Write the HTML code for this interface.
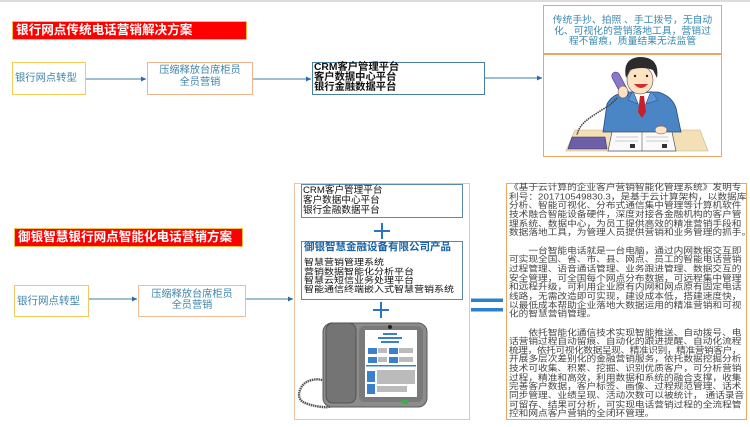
<!DOCTYPE html>
<html><head><meta charset="utf-8">
<style>
html,body{margin:0;padding:0;}
body{width:750px;height:427px;position:relative;background:#fff;overflow:hidden;font-family:"Liberation Sans","Noto Sans CJK SC",sans-serif;}
.a{position:absolute;box-sizing:border-box;}
.t{position:absolute;white-space:nowrap;}
.red{background:#ff0000;border:1px solid #f3c04a;color:#fff;font-weight:bold;font-family:"Liberation Sans","Noto Sans CJK SC",sans-serif;font-size:12.6px;line-height:17px;padding-left:3px;}
.blu{color:#3f86ad;}
.ser{font-family:"Liberation Sans","Noto Sans CJK SC",sans-serif;color:#111;}
</style></head><body>

<div class="a" style="left:0;top:0;width:750px;height:2px;background:#dcdcdc"></div>

<!-- Section 1 -->
<div class="a red" style="left:12px;top:21px;width:235px;height:19px">银行网点传统电话营销解决方案</div>

<div class="a" style="left:12px;top:62px;width:74px;height:33px;border:1.5px solid #f4cc55"></div>
<div class="t blu" style="left:15px;top:72px;font-size:10.3px;line-height:14px">银行网点转型</div>

<div class="a" style="left:147px;top:62px;width:106px;height:33px;border:1.5px solid #efb48c"></div>
<div class="t blu" style="left:147px;top:65px;width:106px;text-align:center;font-size:10.2px;line-height:12px">压缩释放台席柜员<br>全员营销</div>

<div class="a" style="left:312px;top:62px;width:173px;height:33px;border:1.5px solid #4a7f9f"></div>
<div class="t ser" style="left:314px;top:63px;font-size:10.3px;line-height:10px;font-weight:bold">CRM客户管理平台<br>客户数据中心平台<br>银行金融数据平台</div>

<div class="a" style="left:543px;top:5px;width:179px;height:152px;border:1.5px solid #f0a462"></div>
<div class="a" style="left:543px;top:53px;width:179px;height:1.5px;background:#f0a462"></div>
<div class="t" style="left:543px;top:16px;width:179px;text-align:center;font-size:9.8px;line-height:10.5px;color:#3a8ab0">传统手抄、拍照 、手工拨号，无自动<br>化、可视化的营销落地工具，营销过<br>程不留痕，质量结果无法监管</div>

<!-- Section 2 -->
<div class="a red" style="left:14px;top:228px;width:229px;height:19px">御银智慧银行网点智能化电话营销方案</div>

<div class="a" style="left:14px;top:285px;width:75px;height:32px;border:1.5px solid #f2c860"></div>
<div class="t blu" style="left:17px;top:294px;font-size:10.5px;line-height:14px">银行网点转型</div>

<div class="a" style="left:138px;top:285px;width:108px;height:32px;border:1.5px solid #f0bc96"></div>
<div class="t blu" style="left:138px;top:290px;width:108px;text-align:center;font-size:10.2px;line-height:10.5px">压缩释放台席柜员<br>全员营销</div>

<div class="a" style="left:294px;top:183px;width:176px;height:237px;border:1.5px solid #f0c4a0"></div>

<div class="a" style="left:301px;top:184px;width:162px;height:34px;border:1.5px solid #5a8aa8"></div>
<div class="t ser" style="left:303px;top:186px;font-size:9.6px;line-height:10px">CRM客户管理平台<br>客户数据中心平台<br>银行金融数据平台</div>

<div class="a" style="left:301px;top:241px;width:162px;height:59px;border:1.5px solid #5a8aa8"></div>
<div class="t" style="left:304px;top:241px;font-size:10.5px;line-height:12px;font-weight:bold;color:#1a62a4">御银智慧金融设备有限公司产品</div>
<div class="t ser" style="left:304px;top:259px;font-size:10px;line-height:10.6px;transform:scaleY(0.85);transform-origin:0 0">智慧营销管理系统<br>营销数据智能化分析平台<br>智慧云短信业务处理平台<br>智能通信终端嵌入式智慧营销系统</div>

<div class="a" style="left:506px;top:183px;width:241px;height:237px;border:1.5px solid #f0a462"></div>
<div class="t" style="left:509px;top:183.5px;transform:scaleY(0.85);transform-origin:0 0;font-size:9.7px;line-height:10.65px;color:#444">《基于云计算的企业客户营销智能化管理系统》发明专<br>利号：201710549830.3，是基于云计算架构，以数据库<br>分析、智能可视化、分布式通信集中管理等计算机软件<br>技术融合智能设备硬件，深度对接各金融机构的客户管<br>理系统、数据中心，为员工提供高效的精准营销手段和<br>数据落地工具，为管理人员提供营销和业务管理的抓手。<br>&nbsp;<br>&emsp;&emsp;一台智能电话就是一台电脑，通过内网数据交互即<br>可实现全国、省、市、县、网点、员工的智能电话营销<br>过程管理、语音通话管理、业务跟进管理、数据交互的<br>安全管理，可全国每个网点分布数据，可远程集中管理<br>和远程升级，可利用企业原有内网和网点原有固定电话<br>线路，无需改造即可实现，建设成本低，搭建速度快，<br>以最低成本帮助企业落地大数据运用的精准营销和可视<br>化的智慧营销管理。<br>&nbsp;<br>&emsp;&emsp;依托智能化通信技术实现智能推送、自动拨号、电<br>话营销过程自动留痕、自动化的跟进提醒、自动化流程<br><span style="letter-spacing:-0.4px">梳理，依托可视化数据呈现、精准识别，精准营销客户，</span><br>开展多层次差别化的金融营销服务，依托数据挖掘分析<br>技术可收集、积累、挖掘、识别优质客户，可分析营销<br>过程，精准和高效，利用数据和系统的融合支撑，收集<br>完善客户数据，客户标签、画像、过程规范管理、话术<br>同步管理、业绩呈现、活动次数可以被统计， 通话录音<br>可留存、结果可分析，可实现电话营销过程的全流程管<br>控和网点客户营销的全闭环管理。</div>

<svg class="a" style="left:0;top:0" width="750" height="427" viewBox="0 0 750 427">
  <defs>
    <marker id="ah" markerWidth="6" markerHeight="6" refX="5" refY="3" orient="auto" markerUnits="userSpaceOnUse">
      <path d="M0,0.5 L5,3 L0,5.5 z" fill="#2a6aa8"/>
    </marker>
  </defs>
  <g stroke="#7fa9c4" stroke-width="1.5" fill="none" marker-end="url(#ah)">
    <line x1="86" y1="79" x2="146" y2="79"/>
    <line x1="253" y1="79" x2="311" y2="79"/>
    <line x1="485" y1="78" x2="542" y2="78"/>
    <line x1="89" y1="299" x2="137" y2="299"/>
    <line x1="246" y1="299" x2="293" y2="299"/>
  </g>
  <g stroke="#2a74c4" stroke-width="2">
    <line x1="374" y1="231" x2="390" y2="231"/><line x1="382" y1="223" x2="382" y2="239"/>
    <line x1="373" y1="310" x2="389" y2="310"/><line x1="381" y1="302" x2="381" y2="318"/>
  </g>
  <rect x="471" y="298.5" width="32" height="3.5" fill="#2a82cc"/>
  <rect x="471" y="308" width="32" height="3.5" fill="#2a82cc"/>

  <g>
    <polygon points="575,130 700,130 708,151 566,151" fill="#f3e0b6" stroke="#c8b088" stroke-width="0.6"/>
    <path d="M603,132 L607,104 Q612,94 626,92 L658,92 Q672,96 676,108 L681,132 Z" fill="#4a86c6" stroke="#2a4a78" stroke-width="0.8"/>
    <polygon points="634,93 650,93 642,112" fill="#fff"/>
    <polygon points="640,96 644,96 646,112 642,118 638,112" fill="#c8202a"/>
    <path d="M633,91 L628,100 L638,104 Z" fill="#5a96d4" stroke="#2a4a78" stroke-width="0.5"/>
    <path d="M651,91 L658,100 L646,104 Z" fill="#5a96d4" stroke="#2a4a78" stroke-width="0.5"/>
    <ellipse cx="640" cy="80" rx="13" ry="14" fill="#fde2c4" stroke="#6a4a3a" stroke-width="0.6"/>
    <path d="M626,78 Q622,58 640,57 Q660,57 657,78 L653,70 Q642,66 630,70 Z" fill="#2c2c2c"/>
    <path d="M634,84 Q641,92 648,84 Z" fill="#d82a2a"/>
    <circle cx="635" cy="76" r="1.2" fill="#222"/><circle cx="647" cy="76" r="1.2" fill="#222"/>
    <rect x="616" y="71" width="8" height="27" rx="4" transform="rotate(-28 620 84)" fill="#8a78c8" stroke="#4a3a88" stroke-width="0.6"/>
    <ellipse cx="623" cy="92" rx="5" ry="6" fill="#fde2c4" stroke="#6a4a3a" stroke-width="0.5"/>
    <path d="M617,98 q-5,6 -12,10 q-10,6 -18,12 q-8,6 -10,15" fill="none" stroke="#444" stroke-width="1.6" stroke-dasharray="1.5 0.8"/>
    <polygon points="572,137 605,137 607,149 568,149" fill="#6e60a8" stroke="#3a2e70" stroke-width="0.6"/>
    <polygon points="612,132 672,132 676,151 608,151" fill="#fafafa" stroke="#555" stroke-width="0.7"/>
    <line x1="642" y1="132" x2="642" y2="151" stroke="#555" stroke-width="0.6"/>
    <g stroke="#999" stroke-width="0.6">
      <line x1="616" y1="137" x2="638" y2="137"/><line x1="615" y1="141" x2="638" y2="141"/><line x1="646" y1="137" x2="668" y2="137"/><line x1="646" y1="141" x2="669" y2="141"/>
    </g>
    <rect x="630" y="144" width="5" height="4" fill="#333"/><rect x="662" y="144" width="5" height="4" fill="#333"/>
    <ellipse cx="661" cy="130" rx="6" ry="4" fill="#fde2c4" stroke="#6a4a3a" stroke-width="0.5"/>
  </g>

  <g>
    <path d="M337,402 q-4,6 -14,5 q-12,-1 -20,-5 q-6,-4 -3,-12 q3,-8 12,-10 q8,-2 14,2" fill="none" stroke="#555" stroke-width="2.4" stroke-dasharray="1.5 0.7"/>
    <rect x="323" y="323" width="104" height="84" rx="9" fill="#8c8c8c" stroke="#5a5a5a" stroke-width="1"/>
    <rect x="359" y="326" width="64" height="76" rx="5" fill="#7a7a7a"/>
    <rect x="326" y="323" width="30" height="80" rx="7" fill="#747474" stroke="#4a4a4a" stroke-width="0.8"/>
    <rect x="365" y="330" width="52" height="67" fill="#fff"/>
    <g fill="#3a80cc">
      <rect x="383" y="333" width="14" height="2"/><rect x="378" y="337" width="24" height="2"/><rect x="381" y="341" width="18" height="2"/>
      <rect x="368" y="348" width="9" height="6"/><rect x="389" y="348" width="9" height="6"/>
      <rect x="368" y="357" width="9" height="6"/><rect x="389" y="357" width="9" height="6"/>
      <rect x="366" y="365" width="50" height="1.5"/>
      <rect x="367" y="371" width="8" height="11"/><rect x="367" y="384" width="8" height="10"/>
    </g>
    <g fill="#bbb">
      <rect x="378" y="348" width="9" height="5"/><rect x="399" y="348" width="14" height="5"/>
      <rect x="378" y="357" width="9" height="5"/><rect x="399" y="357" width="14" height="5"/>
      <rect x="377" y="370" width="38" height="14"/><rect x="377" y="386" width="30" height="6"/>
    </g>
    <circle cx="390" cy="327" r="2" fill="#222"/>
    <rect x="402" y="400" width="6" height="4" fill="#3ab04a"/>
  </g>
</svg>
</body></html>
